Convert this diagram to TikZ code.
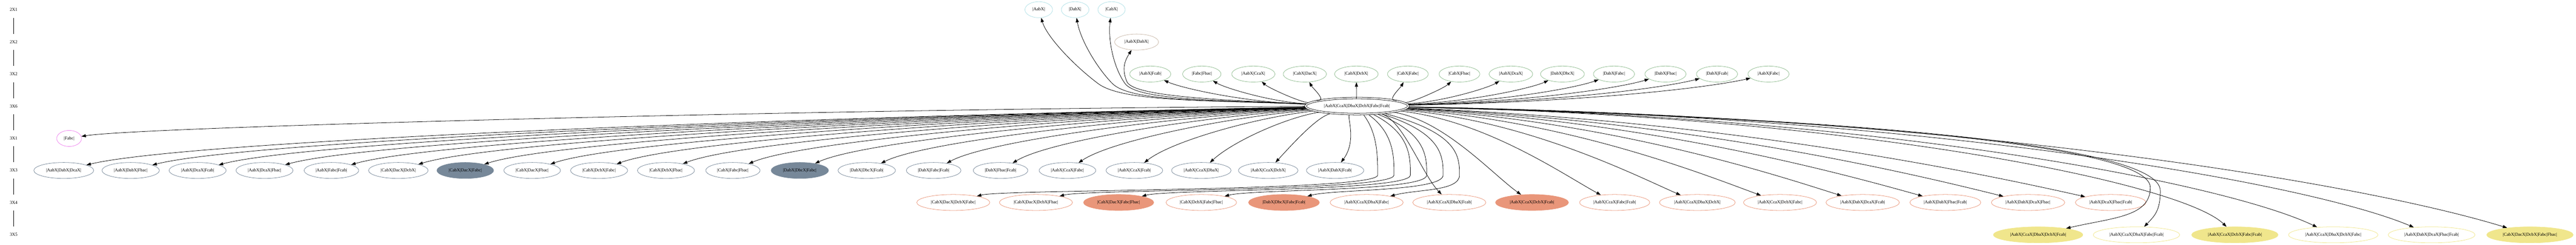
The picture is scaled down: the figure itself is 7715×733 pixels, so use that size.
\documentclass[tikz,border=0pt]{standalone}
\usepackage{fontspec}
\setmainfont{Liberation Serif}
\usetikzlibrary{arrows.meta,shapes.geometric}

\definecolor{slate}{HTML}{778899}
\definecolor{salmon}{HTML}{E9967A}
\definecolor{khaki}{HTML}{F0E68C}
\definecolor{seagreen}{HTML}{8FBC8F}
\definecolor{violet}{HTML}{EE82EE}
\definecolor{powder}{HTML}{B0E0E6}
\definecolor{tanline}{HTML}{C9B8A9}

\tikzset{
    ranktag/.style={minimum width=54pt, minimum height=36pt, inner sep=0pt},
    gvnode/.style={ellipse, draw, line width=0.9pt, minimum width=54pt, minimum height=36pt, inner xsep=8pt, inner ysep=1pt},
    centre/.style={gvnode, draw=black, double, double distance=2.6pt, outer sep=2.2pt},
    spoke/.style={-{Triangle[length=10pt,width=7pt]}, line width=0.9pt},
    lone/.style={gvnode, draw=powder},
    duo/.style={gvnode, draw=tanline},
    pairs/.style={gvnode, draw=seagreen},
    single/.style={gvnode, draw=violet},
    trio/.style={gvnode, draw=slate},
    triofill/.style={trio, fill=slate},
    quad/.style={gvnode, draw=salmon},
    quadfill/.style={quad, fill=salmon},
    pent/.style={gvnode, draw=khaki},
    pentfill/.style={pent, fill=khaki},
}

\begin{document}
\begin{tikzpicture}[x=0.75pt, y=-0.75pt]
    \useasboundingbox (0,0) rectangle (7715,733);

    \foreach \r/\lab [count=\i from 0] in {ra/2X1,rb/2X2,rc/3X2,rd/3X6,re/3X1,rf/3X3,rg/3X4,rh/3X5}
        \node[ranktag] (\r) at (41,{29.3+96.33*\i}) {\lab};
    \foreach \a/\b in {ra/rb,rb/rc,rc/rd,rd/re,re/rf,rf/rg,rg/rh}
        \draw[line width=0.9pt] (\a) -- (\b);

    \node[centre] (hub) at (4064,318) {|AabX|CcaX|DbaX|DcbX|Fabc|Fcab|};

    \foreach \lab [count=\k from 0] in {|AabX|,|DabX|,|CabX|}
        \node[lone] (one\k) at ({3111+109*\k},29) {\lab};
    \node[duo] (pair) at (3404,126) {|AabX|DabX|};
    \foreach \lab [count=\k from 0] in {|AabX|Fcab|,|Fabc|Fbac|,|AabX|CcaX|,|CabX|DacX|,|CabX|DcbX|,|CabX|Fabc|,|CabX|Fbac|,|AabX|DcaX|,|DabX|DbcX|,|DabX|Fabc|,|DabX|Fbac|,|DabX|Fcab|,|AabX|Fabc|}
        \node[pairs] (two\k) at ({3445+154.3*\k},222) {\lab};
    \node[single] (fabc) at (207,415) {|Fabc|};
    \foreach \lab/\sty [count=\k from 0] in {|AabX|DabX|DcaX|/trio,|AabX|DabX|Fbac|/trio,|AabX|DcaX|Fcab|/trio,|AabX|DcaX|Fbac|/trio,|AabX|Fabc|Fcab|/trio,|CabX|DacX|DcbX|/trio,|CabX|DacX|Fabc|/triofill,|CabX|DacX|Fbac|/trio,|CabX|DcbX|Fabc|/trio,|CabX|DcbX|Fbac|/trio,|CabX|Fabc|Fbac|/trio,|DabX|DbcX|Fabc|/triofill,|DabX|DbcX|Fcab|/trio,|DabX|Fabc|Fcab|/trio,|DabX|Fbac|Fcab|/trio,|AabX|CcaX|Fabc|/trio,|AabX|CcaX|Fcab|/trio,|AabX|CcaX|DbaX|/trio,|AabX|CcaX|DcbX|/trio,|AabX|DabX|Fcab|/trio}
        \node[\sty] (three\k) at ({191+200.4*\k},511) {\lab};
    \foreach \lab/\sty [count=\k from 0] in {|CabX|DacX|DcbX|Fabc|/quad,|CabX|DacX|DcbX|Fbac|/quad,|CabX|DacX|Fabc|Fbac|/quadfill,|CabX|DcbX|Fabc|Fbac|/quad,|DabX|DbcX|Fabc|Fcab|/quadfill,|AabX|CcaX|DbaX|Fabc|/quad,|AabX|CcaX|DbaX|Fcab|/quad,|AabX|CcaX|DcbX|Fcab|/quadfill,|AabX|CcaX|Fabc|Fcab|/quad,|AabX|CcaX|DbaX|DcbX|/quad,|AabX|CcaX|DcbX|Fabc|/quad,|AabX|DabX|DcaX|Fcab|/quad,|AabX|DabX|Fbac|Fcab|/quad,|AabX|DabX|DcaX|Fbac|/quad,|AabX|DcaX|Fbac|Fcab|/quad}
        \node[\sty] (four\k) at ({2855+247.6*\k},607) {\lab};
    \foreach \lab/\sty [count=\k from 0] in {|AabX|CcaX|DbaX|DcbX|Fcab|/pentfill,|AabX|CcaX|DbaX|Fabc|Fcab|/pent,|AabX|CcaX|DcbX|Fabc|Fcab|/pentfill,|AabX|CcaX|DbaX|DcbX|Fabc|/pent,|AabX|DabX|DcaX|Fbac|Fcab|/pent,|CabX|DacX|DcbX|Fabc|Fbac|/pentfill}
        \node[\sty] (five\k) at ({6104+294.6*\k},704) {\lab};

    \draw[spoke] (hub) .. controls (3600,300) and (3360,305) .. (3288,250) .. controls (3215,195) and (3135,110) .. (one0);
    \draw[spoke] (hub) .. controls (3620,300) and (3385,305) .. (3331,250) .. controls (3285,203) and (3236,120) .. (one1);
    \draw[spoke] (hub) .. controls (3640,300) and (3405,300) .. (3369,250) .. controls (3335,202) and (3318,120) .. (one2);
    \draw[spoke] (hub) .. controls (3660,300) and (3395,290) .. (3375,245) .. controls (3358,205) and (3370,180) .. (pair);
    \foreach \k in {0,...,12}{
        \pgfmathsetmacro\tx{3445+154.3*\k}
        \pgfmathsetmacro\ax{4064+0.55*(\tx-4064)}
        \pgfmathsetmacro\bx{\tx-0.15*(\tx-4064)}
        \draw[spoke] (hub) .. controls (\ax,306) and (\bx,264) .. (two\k);
    }
    \draw[spoke] (hub) .. controls (2500,326) and (420,380) .. (fabc);
    \foreach \k in {0,...,19}{
        \pgfmathsetmacro\tx{191+200.4*\k}
        \pgfmathsetmacro\ax{4064-0.45*(4064-\tx)}
        \pgfmathsetmacro\bx{\tx+0.08*(4064-\tx)+60}
        \draw[spoke] (hub) .. controls (\ax,352) and (\bx,422) .. (three\k);
    }
    \foreach \k in {0,...,5}{
        \pgfmathsetmacro\tx{2855+247.6*\k}
        \pgfmathsetmacro\vx{4126+49*\k}
        \draw[spoke] (hub) .. controls (\vx,400) and (\vx,470) .. (\vx,525) .. controls (\vx,574) and ({\tx+150},567) .. (four\k);
    }
    \foreach \k in {6,...,14}{
        \pgfmathsetmacro\tx{2855+247.6*\k}
        \pgfmathsetmacro\ax{4064+0.5*(\tx-4064)}
        \pgfmathsetmacro\bx{\tx-0.15*(\tx-4064)-40}
        \draw[spoke] (hub) .. controls (\ax,362) and (\bx,522) .. (four\k);
    }
    \draw[spoke] (hub) .. controls (5300,346) and (6440,420) .. (6440,562) .. controls (6440,650) and (6330,652) .. (five0);
    \draw[spoke] (hub) .. controls (5350,346) and (6470,420) .. (6470,572) .. controls (6470,632) and (6452,648) .. (five1);
    \foreach \k/\wx in {2/6531,3/6659,4/6911,5/7066}{
        \pgfmathsetmacro\ax{0.4*4064+0.6*\wx}
        \draw[spoke] (hub) .. controls (\ax,346) and (\wx,547) .. (five\k);
    }
\end{tikzpicture}
\end{document}
